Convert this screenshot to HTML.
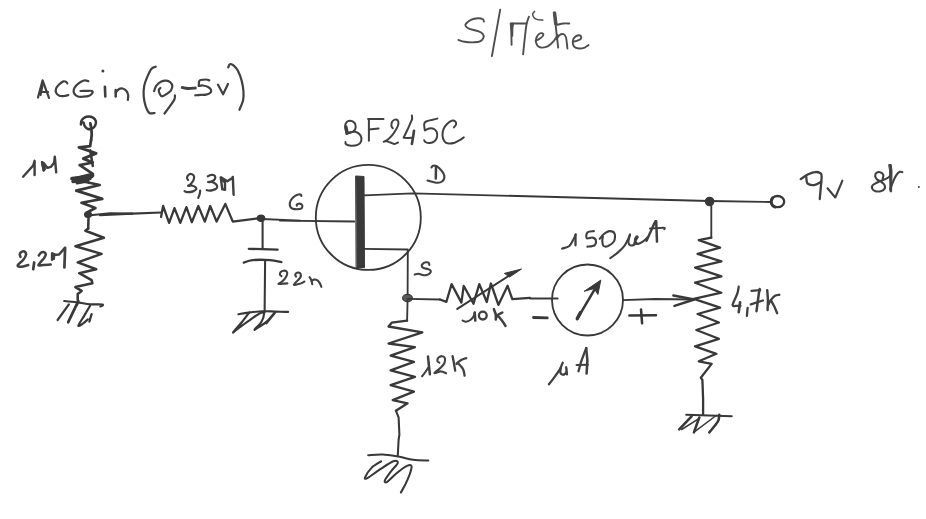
<!DOCTYPE html>
<html><head><meta charset="utf-8"><title>S-Metre schematic</title>
<style>
html,body{margin:0;padding:0;background:#ffffff;}
body{width:926px;height:519px;overflow:hidden;font-family:"Liberation Sans",sans-serif;}
svg{display:block;}
</style></head>
<body>
<svg width="926" height="519" viewBox="0 0 926 519">
<rect width="926" height="519" fill="#ffffff"/>
<g fill="none" stroke-linecap="round" stroke-linejoin="round">
<path d="M483.9 21.6 C483.7 21.2 483.9 19.8 482.9 19.2 C481.9 18.6 480.0 18.1 478.1 18.2 C476.2 18.3 473.4 18.7 471.4 19.6 C469.4 20.5 467.1 22.4 466.1 23.5 C465.1 24.6 465.0 25.0 465.6 25.9 C466.2 26.8 467.4 27.9 469.5 28.8 C471.6 29.7 475.9 30.3 478.1 31.2 C480.3 32.1 482.0 33.0 482.9 34.1 C483.8 35.2 483.9 36.7 483.4 37.9 C482.9 39.1 481.5 40.6 480.0 41.3 C478.5 42.0 476.9 42.2 474.3 42.3 C471.7 42.4 467.2 42.2 464.6 41.8 C462.0 41.4 459.4 40.2 458.4 39.9" stroke="#4d4d4d" stroke-width="1.89"/>
<path d="M500.2 9.7 L491.9 56.1" stroke="#4d4d4d" stroke-width="1.89"/>
<path d="M511.6 44.7 L511.1 23.5 L526.0 23.5" stroke="#4d4d4d" stroke-width="1.89"/>
<path d="M512.8 26.0 L512.6 36.0" stroke="#4d4d4d" stroke-width="1.26"/>
<path d="M528.9 16.7 C528.5 18.0 527.2 20.9 526.5 24.5 C525.8 28.1 525.4 33.0 524.8 38.0 C524.2 43.0 523.4 51.6 523.1 54.3" stroke="#4d4d4d" stroke-width="1.89"/>
<polygon points="510.5,23.2 513.8,23.2 511.6,31.0" fill="#4d4d4d" stroke="#4d4d4d" stroke-width="1"/>
<path d="M534.6 11.4 C534.3 11.8 532.8 12.9 532.7 13.9 C532.6 14.9 533.3 16.8 534.1 17.7 C534.9 18.6 536.0 19.2 537.5 19.6 C539.0 20.0 541.9 20.0 542.8 20.1" stroke="#4d4d4d" stroke-width="1.47"/>
<path d="M535.6 40.8 C536.2 40.5 538.2 39.7 539.4 38.9 C540.6 38.1 542.1 36.8 542.8 36.0 C543.4 35.2 543.6 34.6 543.3 34.1 C543.0 33.6 541.8 33.0 540.9 33.1 C540.0 33.2 538.8 34.0 538.0 35.0 C537.2 36.0 536.4 37.6 536.1 38.9 C535.8 40.2 535.7 41.4 536.1 42.7 C536.5 44.0 537.5 45.8 538.5 46.6 C539.5 47.4 540.7 47.7 542.3 47.6 C543.9 47.5 546.2 47.2 548.1 46.1 C550.0 45.0 552.3 42.6 553.9 40.8 C555.5 38.9 557.1 36.0 557.7 35.0" stroke="#4d4d4d" stroke-width="1.89"/>
<path d="M554.4 12.4 L555.3 21.6 L556.8 36.0 L558.2 47.6" stroke="#4d4d4d" stroke-width="1.89"/>
<polygon points="553.6,12.2 555.6,12.0 557.2,24.5 555.0,24.5" fill="#4d4d4d" stroke="#4d4d4d" stroke-width="1"/>
<path d="M556.8 24.9 C557.9 24.7 561.4 23.7 563.5 23.5 C565.6 23.3 568.3 23.5 569.3 23.5" stroke="#4d4d4d" stroke-width="1.89"/>
<path d="M556.8 38.9 C557.3 38.2 558.6 35.8 559.7 35.0 C560.8 34.2 562.5 33.8 563.5 34.1 C564.5 34.4 565.3 35.4 565.9 37.0 C566.5 38.6 566.6 41.8 566.9 43.7 C567.1 45.6 567.3 47.7 567.4 48.5" stroke="#4d4d4d" stroke-width="1.89"/>
<path d="M572.7 41.8 C573.4 41.6 575.6 41.3 577.0 40.8 C578.4 40.3 580.2 39.7 580.8 38.9 C581.4 38.1 581.3 36.6 580.8 36.0 C580.2 35.4 578.6 35.2 577.5 35.5 C576.4 35.8 574.9 36.9 574.1 37.9 C573.3 38.9 572.7 40.3 572.7 41.8 C572.7 43.2 573.1 45.5 574.1 46.6 C575.1 47.7 577.1 48.3 578.9 48.5 C580.7 48.7 583.1 48.2 584.7 47.6 C586.3 47.0 587.9 45.5 588.5 45.1" stroke="#4d4d4d" stroke-width="1.89"/>
<path d="M38.0 97.5 L42.6 80.3 L49.0 97.9" stroke="#404040" stroke-width="2.21"/>
<path d="M40.5 95.0 L42.8 84.0" stroke="#404040" stroke-width="2.21"/>
<path d="M41.2 92.0 L48.1 92.0" stroke="#404040" stroke-width="2.21"/>
<path d="M67.3 83.3 C67.1 83.0 66.7 82.0 66.0 81.7 C65.3 81.4 64.5 81.0 63.4 81.4 C62.3 81.8 60.5 83.1 59.3 84.3 C58.1 85.5 56.6 87.0 56.1 88.4 C55.6 89.8 55.6 91.4 56.1 92.6 C56.6 93.8 58.0 95.1 59.3 95.7 C60.6 96.3 62.4 96.1 63.9 96.0 C65.4 95.9 67.6 95.3 68.3 95.2" stroke="#404040" stroke-width="2.21"/>
<path d="M88.3 81.2 C87.8 81.1 86.4 80.3 85.2 80.4 C84.0 80.5 82.5 80.9 81.0 81.7 C79.5 82.5 77.6 84.0 76.4 85.3 C75.2 86.6 74.2 88.1 73.8 89.5 C73.4 90.9 73.6 92.4 74.3 93.6 C75.0 94.8 76.4 96.0 77.9 96.5 C79.4 97.0 81.2 96.8 83.1 96.7 C85.0 96.6 87.8 96.3 89.3 95.7 C90.8 95.1 92.0 93.9 92.4 93.1 C92.8 92.3 92.6 91.4 91.9 91.0 C91.2 90.6 90.2 90.8 88.3 90.8 C86.4 90.8 81.8 91.0 80.5 91.0" stroke="#404040" stroke-width="2.21"/>
<circle cx="102.9" cy="70.9" r="1.5" fill="#404040" stroke="none"/>
<path d="M104.9 86.8 L105.3 96.5" stroke="#404040" stroke-width="2.62"/>
<path d="M115.7 90.0 L115.7 96.5" stroke="#404040" stroke-width="2.52"/>
<path d="M115.7 92.4 C116.2 91.9 117.7 89.9 118.8 89.2 C119.9 88.5 121.3 88.2 122.6 88.5 C123.9 88.8 125.5 89.9 126.4 91.0 C127.3 92.1 128.0 93.6 128.2 95.1 C128.4 96.6 127.9 99.2 127.8 100.0" stroke="#404040" stroke-width="2.21"/>
<path d="M155.7 66.7 C155.0 67.0 152.9 67.2 151.5 68.8 C150.1 70.4 148.6 73.8 147.4 76.6 C146.2 79.4 144.8 82.6 144.2 85.9 C143.6 89.2 143.4 92.8 143.7 96.3 C144.0 99.8 144.9 103.9 145.8 106.7 C146.8 109.5 147.9 112.0 149.4 113.0 C150.9 114.0 153.7 113.0 154.6 113.0" stroke="#404040" stroke-width="2.21"/>
<path d="M154.1 91.1 C154.4 90.2 155.1 87.5 156.2 85.9 C157.3 84.4 159.2 82.7 160.9 81.8 C162.6 80.9 164.5 80.6 166.1 80.7 C167.7 80.8 169.3 81.4 170.3 82.3 C171.3 83.2 172.2 84.5 172.3 85.9 C172.4 87.3 171.8 89.2 170.8 90.6 C169.8 92.0 167.6 93.3 166.1 94.3 C164.6 95.2 162.9 96.3 161.9 96.3 C160.9 96.3 160.4 95.3 159.9 94.3 C159.4 93.3 158.7 91.1 158.8 90.1 C158.9 89.0 160.1 88.3 160.4 88.0" stroke="#404040" stroke-width="2.21"/>
<path d="M174.9 95.3 C174.8 96.0 175.2 97.8 174.4 99.5 C173.6 101.2 172.0 103.4 170.3 105.7 C168.7 108.0 165.5 112.2 164.5 113.5" stroke="#404040" stroke-width="2.21"/>
<path d="M182.3 87.5 C183.2 87.7 185.8 88.4 188.0 88.5 C190.2 88.6 194.1 88.1 195.3 88.0" stroke="#404040" stroke-width="2.94"/>
<path d="M209.3 80.3 C208.8 80.2 207.6 79.5 206.1 79.5 C204.6 79.5 201.8 79.7 200.6 80.0 C199.4 80.3 199.4 80.5 199.1 81.5 C198.8 82.5 198.9 85.2 198.8 86.0" stroke="#404040" stroke-width="2.21"/>
<path d="M198.8 86.0 C199.5 85.9 201.6 85.3 203.1 85.5 C204.6 85.7 206.8 86.2 208.1 87.0 C209.4 87.8 210.8 89.0 211.1 90.0 C211.4 91.0 210.9 92.2 210.1 93.0 C209.3 93.8 207.7 94.3 206.1 94.6 C204.5 94.9 202.4 94.7 200.6 94.8 C198.8 94.9 196.2 95.2 195.3 95.3" stroke="#404040" stroke-width="2.21"/>
<path d="M217.9 84.6 L223.1 94.3 L228.0 84.0" stroke="#404040" stroke-width="2.21"/>
<path d="M228.2 67.4 C228.5 66.9 228.9 64.6 229.8 64.2 C230.7 63.9 232.2 64.2 233.5 65.3 C234.8 66.4 236.5 68.1 237.8 70.6 C239.1 73.1 240.6 76.8 241.5 80.1 C242.4 83.4 243.1 87.3 243.4 90.7 C243.7 94.1 243.8 97.1 243.1 100.3 C242.4 103.5 240.0 108.2 239.4 109.8" stroke="#404040" stroke-width="2.21"/>
<path d="M80.9 124.5 C81.0 123.8 81.0 121.7 81.6 120.5 C82.2 119.3 83.3 118.2 84.5 117.6 C85.7 116.9 87.1 116.6 88.5 116.6 C89.9 116.6 91.8 116.9 93.0 117.6 C94.2 118.3 95.4 119.7 95.8 121.0 C96.2 122.3 95.8 124.2 95.2 125.5 C94.6 126.8 93.2 128.0 92.0 128.6 C90.8 129.2 89.2 129.3 88.0 129.0 C86.8 128.7 85.8 127.6 85.0 126.5 C84.2 125.4 83.8 123.2 83.5 122.5" stroke="#383838" stroke-width="2.53"/>
<path d="M90.3 123.4 C90.5 124.2 91.0 126.2 91.2 128.0 C91.4 129.8 91.7 132.0 91.7 134.0 C91.7 136.0 91.3 139.0 91.2 140.0" stroke="#383838" stroke-width="2.76"/>
<path d="M91.0 140.0 L90.2 146.1 L78.9 147.4 L96.2 153.4 L83.2 158.6 L92.8 162.5 L79.7 165.2 L92.8 173.8 L71.9 179.0 L99.7 185.0 L76.3 190.6 L102.3 198.9 L91.0 201.0 L81.5 202.8 L95.4 208.0 L88.0 212.0" stroke="#383838" stroke-width="2.76"/>
<path d="M90.2 150.4 L92.8 166.0" stroke="#383838" stroke-width="2.53"/>
<path d="M72.0 178.5 L92.0 176.5" stroke="#383838" stroke-width="3.45"/>
<path d="M73.0 181.5 L90.0 178.5" stroke="#383838" stroke-width="3.45"/>
<path d="M77.0 183.0 L88.0 181.0" stroke="#383838" stroke-width="2.88"/>
<path d="M83.0 177.0 L93.0 175.5" stroke="#383838" stroke-width="2.88"/>
<path d="M23.1 176.7 L33.2 165.5 L34.6 160.8 L34.6 175.0" stroke="#404040" stroke-width="2.42"/>
<path d="M43.7 170.6 L42.0 162.1 L44.0 163.5 L47.4 167.9 L50.8 166.9 L54.1 162.8 L54.8 156.7 L56.2 172.3" stroke="#404040" stroke-width="2.42"/>
<polygon points="41.8,162.0 44.5,163.0 45.5,170.0 43.5,170.8" fill="#404040" stroke="#404040" stroke-width="1"/>
<ellipse cx="88.0" cy="214.5" rx="3.4" ry="3.0" fill="#383838" stroke="#383838" stroke-width="1.2"/>
<path d="M88.0 215.5 L110.0 213.2 L132.4 213.6" stroke="#383838" stroke-width="2.07"/>
<path d="M88.5 218.0 L88.2 228.5" stroke="#383838" stroke-width="2.53"/>
<path d="M88.2 228.5 L85.4 230.8 L103.9 237.7 L75.4 246.2 L101.6 253.9 L77.7 262.4 L96.2 269.3 L79.2 273.2 L91.6 280.1 L92.4 283.2 L75.4 287.1 L81.6 290.9 L77.7 294.0 L77.7 300.0 L78.4 301.0 L77.0 304.6" stroke="#383838" stroke-width="2.53"/>
<path d="M64.2 301.0 C66.3 301.2 72.7 301.8 77.0 302.4 C81.3 302.9 85.8 303.9 90.1 304.3 C94.4 304.7 100.9 304.2 102.6 304.6 C104.3 305.0 100.8 306.2 100.4 306.5" stroke="#383838" stroke-width="2.18"/>
<path d="M68.9 304.3 L57.6 320.0" stroke="#383838" stroke-width="2.18"/>
<path d="M77.0 303.9 L68.2 322.2" stroke="#383838" stroke-width="2.76"/>
<path d="M90.1 305.7 C89.1 307.4 86.2 312.3 84.3 315.6 C82.3 318.9 78.7 324.1 78.4 325.5 C78.2 326.9 81.2 324.7 82.8 323.7 C84.4 322.7 87.1 320.0 87.9 319.3" stroke="#383838" stroke-width="2.18"/>
<path d="M91.6 314.2 L89.4 321.5" stroke="#383838" stroke-width="2.30"/>
<path d="M20.5 256.9 C20.4 256.4 19.6 255.0 19.8 254.1 C20.0 253.2 21.0 252.0 21.9 251.7 C22.8 251.3 24.5 251.4 25.1 252.0 C25.8 252.6 26.2 254.2 25.8 255.5 C25.4 256.9 24.4 258.5 23.0 260.1 C21.6 261.8 18.0 264.3 17.7 265.4 C17.4 266.5 19.4 266.9 21.2 266.8 C22.9 266.7 27.0 265.3 28.2 265.0" stroke="#404040" stroke-width="2.52"/>
<path d="M34.2 262.5 L33.2 269.2" stroke="#404040" stroke-width="2.73"/>
<path d="M38.8 255.5 C39.1 255.0 40.1 253.3 40.9 252.7 C41.7 252.1 42.9 251.8 43.7 252.0 C44.5 252.2 45.7 253.2 45.8 254.1 C45.9 255.0 45.2 256.3 44.4 257.6 C43.6 258.9 41.9 260.5 40.9 261.8 C39.9 263.1 37.9 264.9 38.4 265.4 C38.9 265.9 41.7 265.1 43.7 265.0 C45.8 264.9 49.5 264.7 50.7 264.6" stroke="#404040" stroke-width="2.52"/>
<path d="M52.1 259.7 L52.1 253.4 L55.6 254.8 L59.1 254.5 L64.7 248.2" stroke="#404040" stroke-width="2.52"/>
<polygon points="52.0,253.0 55.0,254.0 54.5,259.5 52.5,259.5" fill="#404040" stroke="#404040" stroke-width="1"/>
<path d="M65.1 247.8 L64.4 267.5" stroke="#404040" stroke-width="2.73"/>
<path d="M100.0 215.1 L132.4 213.6 L161.1 212.5" stroke="#383838" stroke-width="2.07"/>
<path d="M161.1 216.8 L163.1 206.0 L169.1 222.9 L174.5 208.2 L180.3 222.9 L186.4 207.1 L191.8 222.2 L198.3 206.0 L204.8 221.6 L210.2 206.0 L216.6 221.6 L225.3 203.9 L232.8 221.6 L262.0 217.9" stroke="#383838" stroke-width="2.30"/>
<ellipse cx="261.0" cy="218.3" rx="3.8" ry="3.2" fill="#383838" stroke="#383838" stroke-width="1.2"/>
<path d="M262.0 219.0 L300.0 220.7" stroke="#383838" stroke-width="1.84"/>
<path d="M188.1 180.1 C187.9 179.7 186.8 178.3 187.0 177.4 C187.2 176.5 188.4 174.9 189.2 174.4 C190.0 173.9 191.1 173.9 191.9 174.2 C192.7 174.5 193.7 175.3 194.0 176.3 C194.3 177.3 194.0 178.8 193.5 180.1 C193.0 181.4 191.7 182.9 190.8 183.9 C189.9 184.9 187.9 185.7 188.1 186.0 C188.3 186.3 190.7 185.3 191.9 185.5 C193.1 185.7 194.7 186.5 195.4 187.1 C196.1 187.7 196.6 188.6 196.2 189.3 C195.8 190.0 194.3 190.9 193.0 191.4 C191.7 191.9 189.5 192.2 188.1 192.2 C186.7 192.2 185.2 191.4 184.6 191.2" stroke="#404040" stroke-width="2.21"/>
<path d="M200.2 190.6 C200.1 191.2 200.0 192.9 199.7 194.1 C199.4 195.3 198.5 197.3 198.3 197.9" stroke="#404040" stroke-width="2.21"/>
<path d="M207.8 176.3 C208.3 176.1 209.8 175.2 210.8 175.0 C211.8 174.8 213.2 174.8 214.0 175.2 C214.8 175.6 215.3 176.6 215.3 177.4 C215.3 178.2 214.8 179.3 214.0 180.1 C213.2 180.9 211.1 181.7 210.2 182.0 C209.2 182.3 208.6 182.0 208.3 182.0" stroke="#404040" stroke-width="2.21"/>
<path d="M208.3 182.0 C208.9 182.0 210.6 181.7 211.8 182.0 C213.0 182.3 214.7 183.1 215.6 183.9 C216.5 184.7 217.1 185.8 217.2 186.6 C217.3 187.4 216.9 188.1 216.2 188.7 C215.5 189.3 214.1 189.8 212.9 190.1 C211.7 190.4 210.1 190.6 209.1 190.6 C208.1 190.6 207.1 190.2 206.7 190.1" stroke="#404040" stroke-width="2.21"/>
<path d="M220.7 177.4 L222.3 189.3 L225.0 189.8 L225.0 182.8 L220.9 177.4 L227.4 181.2 L232.3 177.9 L232.8 176.9 L233.6 194.7" stroke="#404040" stroke-width="2.42"/>
<path d="M262.6 220.0 L262.6 248.8" stroke="#383838" stroke-width="2.07"/>
<path d="M248.8 248.8 L277.6 249.6" stroke="#383838" stroke-width="2.30"/>
<path d="M243.8 262.6 C245.3 262.2 248.2 260.5 252.6 260.1 C256.9 259.7 265.3 259.8 270.1 260.1 C274.9 260.4 279.5 261.8 281.4 262.1" stroke="#383838" stroke-width="2.30"/>
<path d="M265.1 261.3 L264.6 312.7" stroke="#383838" stroke-width="2.07"/>
<path d="M238.4 314.3 C240.1 314.0 244.7 313.1 248.7 312.6 C252.7 312.1 258.0 311.4 262.6 311.2 C267.2 311.0 272.1 311.5 276.4 311.6 C280.6 311.7 286.2 311.8 288.1 311.9" stroke="#383838" stroke-width="2.07"/>
<path d="M249.4 312.3 C248.1 314.0 244.5 319.0 241.8 322.3 C239.1 325.6 233.9 331.2 233.2 332.3 C232.5 333.4 235.1 330.7 237.7 328.8 C240.3 326.9 244.9 323.5 248.7 320.9 C252.5 318.2 258.0 314.0 260.5 312.9 C263.0 311.8 263.8 312.4 263.9 314.0 C264.0 315.6 262.8 319.7 261.2 322.3 C259.6 324.9 255.2 328.6 254.6 329.5 C254.0 330.4 255.7 329.1 257.7 327.8 C259.7 326.5 263.8 324.2 266.7 321.6 C269.6 319.0 274.0 313.3 275.0 312.3 C276.0 311.3 274.3 313.6 272.9 315.4 C271.5 317.2 267.5 322.0 266.4 323.3" stroke="#383838" stroke-width="2.18"/>
<path d="M281.5 276.1 C281.2 275.9 280.0 275.4 279.9 274.7 C279.8 274.0 280.1 272.7 280.7 272.0 C281.3 271.3 282.6 270.8 283.6 270.7 C284.6 270.6 286.0 270.9 286.6 271.5 C287.2 272.1 287.4 273.3 287.1 274.5 C286.8 275.7 285.6 277.6 284.7 278.8 C283.8 280.1 282.5 281.1 281.5 282.0 C280.5 282.9 278.3 283.6 278.5 283.9 C278.7 284.2 281.1 283.8 282.6 283.7 C284.1 283.6 286.6 283.4 287.4 283.4" stroke="#404040" stroke-width="2.10"/>
<path d="M296.1 276.6 C296.0 276.3 295.2 275.6 295.2 275.0 C295.2 274.4 295.7 273.5 296.3 273.1 C296.9 272.7 298.1 272.5 298.8 272.6 C299.5 272.7 300.3 273.1 300.6 273.9 C300.9 274.7 300.9 276.1 300.4 277.2 C299.9 278.3 298.8 279.1 297.7 280.4 C296.6 281.6 293.9 284.1 293.9 284.7 C293.9 285.3 296.4 284.5 297.7 284.2 C299.0 283.9 300.6 283.6 301.7 283.1 C302.8 282.7 303.9 281.8 304.4 281.5" stroke="#404040" stroke-width="2.10"/>
<path d="M309.6 277.2 C309.9 277.6 310.8 278.7 311.2 279.9 C311.6 281.1 312.1 283.5 312.3 284.2" stroke="#404040" stroke-width="2.10"/>
<path d="M311.7 281.0 C312.1 280.8 313.0 279.8 313.9 279.6 C314.8 279.5 316.1 279.5 317.1 280.1 C318.1 280.7 319.1 282.0 319.8 283.1 C320.5 284.2 321.1 286.3 321.4 286.9" stroke="#404040" stroke-width="2.10"/>
<ellipse cx="368.3" cy="217.4" rx="52.5" ry="52.5" stroke="#383838" stroke-width="1.84"/>
<path d="M280.0 220.7 L354.2 221.5" stroke="#383838" stroke-width="1.84"/>
<path d="M364.3 195.3 L412.8 193.3 L709.0 201.0" stroke="#383838" stroke-width="1.84"/>
<path d="M363.3 248.9 L407.8 249.5 L407.6 298.8" stroke="#383838" stroke-width="1.84"/>
<polygon points="356.0,176.0 364.0,176.5 364.5,267.5 356.5,267.5" fill="#3a3a3a" stroke="#3a3a3a" stroke-width="1"/>
<path d="M301.3 196.0 C301.3 195.8 301.6 195.1 301.1 194.8 C300.7 194.6 299.6 194.3 298.6 194.5 C297.6 194.7 296.3 195.1 295.2 195.8 C294.1 196.5 292.7 197.7 291.8 198.8 C290.9 199.9 290.1 201.3 289.9 202.6 C289.6 203.9 289.9 205.8 290.3 206.8 C290.8 207.8 291.5 208.3 292.6 208.7 C293.7 209.1 295.5 209.2 296.9 209.2 C298.3 209.2 300.2 209.2 301.1 208.7 C302.0 208.2 302.3 207.1 302.4 206.4 C302.5 205.7 302.1 204.8 301.5 204.3 C300.9 203.9 299.4 203.6 298.6 203.7 C297.8 203.8 297.0 204.3 296.7 204.7 C296.4 205.0 296.9 205.6 296.9 205.8" stroke="#404040" stroke-width="2.10"/>
<path d="M431.5 167.3 C431.8 167.1 432.2 166.0 433.0 165.8 C433.8 165.6 435.3 165.5 436.5 166.0 C437.7 166.5 438.8 167.8 440.0 169.0 C441.2 170.2 442.8 172.0 443.5 173.5 C444.2 175.0 444.6 176.7 444.3 178.0 C444.1 179.3 443.1 180.7 442.0 181.5 C440.9 182.3 439.5 182.7 438.0 182.8 C436.5 182.9 434.8 182.4 433.0 182.0 C431.2 181.6 428.4 180.8 427.5 180.5" stroke="#404040" stroke-width="2.10"/>
<path d="M436.0 166.5 L435.8 178.5" stroke="#404040" stroke-width="2.52"/>
<path d="M429.3 264.9 C429.2 264.5 429.2 263.2 428.7 262.8 C428.2 262.4 427.1 262.2 426.1 262.3 C425.2 262.4 423.7 263.0 423.0 263.6 C422.3 264.2 421.6 265.2 421.7 265.9 C421.8 266.6 422.5 267.5 423.5 268.0 C424.5 268.5 426.5 268.6 427.7 269.0 C428.9 269.4 430.2 269.9 430.6 270.6 C431.0 271.3 430.7 272.5 430.0 273.2 C429.3 273.9 427.9 274.7 426.6 275.0 C425.4 275.3 423.9 275.2 422.5 275.0 C421.1 274.8 419.6 273.8 418.3 273.7 C417.0 273.6 415.3 274.4 414.7 274.5" stroke="#404040" stroke-width="2.10"/>
<path d="M346.6 134.0 C346.4 132.8 345.1 128.6 345.1 126.6 C345.1 124.6 345.8 123.2 346.6 122.2 C347.5 121.2 348.9 120.7 350.2 120.8 C351.5 120.9 353.7 121.9 354.6 123.0 C355.5 124.1 355.8 126.1 355.7 127.4 C355.6 128.7 355.0 130.0 353.9 131.0 C352.8 132.0 350.0 132.7 348.8 133.2 C347.6 133.7 347.0 133.9 346.6 134.0" stroke="#404040" stroke-width="1.99"/>
<path d="M348.8 132.5 C349.9 132.4 353.4 131.3 355.4 131.8 C357.3 132.3 359.5 133.8 360.5 135.4 C361.5 137.0 361.7 139.7 361.2 141.3 C360.7 142.9 359.3 144.2 357.6 144.9 C355.9 145.6 352.9 145.8 351.0 145.7 C349.1 145.6 346.8 144.8 345.9 144.2 C345.0 143.6 345.6 142.4 345.5 142.0" stroke="#404040" stroke-width="1.99"/>
<path d="M346.0 127.0 L347.2 133.0" stroke="#404040" stroke-width="3.25"/>
<path d="M368.9 119.4 L368.9 140.8" stroke="#404040" stroke-width="1.99"/>
<path d="M368.1 118.9 L383.5 118.9" stroke="#404040" stroke-width="1.99"/>
<path d="M368.9 129.4 L378.6 128.6" stroke="#404040" stroke-width="1.99"/>
<path d="M392.8 128.3 C392.6 127.9 391.5 127.0 391.4 125.9 C391.3 124.8 391.5 122.8 392.1 121.7 C392.7 120.7 394.0 119.8 394.9 119.6 C395.8 119.4 397.1 119.6 397.7 120.3 C398.3 121.0 398.6 122.4 398.4 123.8 C398.2 125.2 397.6 126.8 396.6 128.6 C395.6 130.4 394.0 133.1 392.5 134.9 C391.0 136.8 389.1 138.5 387.6 139.7 C386.2 140.8 384.2 141.6 383.8 141.8 C383.4 142.0 384.4 141.0 385.5 141.1 C386.6 141.2 388.9 142.0 390.4 142.5 C391.9 143.0 393.3 143.9 394.6 143.9 C395.9 143.9 397.4 142.7 398.0 142.5" stroke="#404040" stroke-width="1.99"/>
<path d="M411.9 115.5 L412.2 118.9 L407.7 129.3 L403.6 137.7 L407.7 138.0 L412.6 137.7" stroke="#404040" stroke-width="1.99"/>
<path d="M414.0 130.7 L413.3 135.6 L411.9 143.9" stroke="#404040" stroke-width="2.62"/>
<path d="M437.4 118.6 C436.6 118.8 434.5 119.2 432.6 119.7 C430.7 120.2 427.5 120.8 426.1 121.5 C424.7 122.2 424.4 122.5 424.2 123.7 C423.9 124.9 424.5 127.7 424.6 128.8 C424.7 129.9 424.9 130.1 425.0 130.3" stroke="#404040" stroke-width="1.99"/>
<path d="M425.0 130.3 C425.7 130.0 427.6 128.8 429.0 128.5 C430.4 128.2 432.4 128.2 433.7 128.8 C435.0 129.4 436.1 130.5 436.7 131.8 C437.2 133.2 437.4 135.3 437.0 136.9 C436.6 138.5 435.7 140.3 434.5 141.3 C433.3 142.3 431.2 143.0 429.7 143.1 C428.2 143.2 426.2 142.5 425.3 142.0 C424.4 141.5 424.4 140.5 424.2 140.2" stroke="#404040" stroke-width="1.99"/>
<path d="M453.9 127.4 C454.3 126.9 455.9 125.4 456.1 124.4 C456.3 123.4 456.0 122.1 455.3 121.5 C454.6 120.9 453.0 120.4 451.7 120.8 C450.4 121.2 448.6 122.4 447.3 123.7 C446.0 125.0 444.4 126.9 443.6 128.8 C442.8 130.8 442.4 133.3 442.5 135.4 C442.6 137.5 443.4 140.0 444.4 141.3 C445.4 142.7 447.0 143.3 448.7 143.5 C450.4 143.7 452.8 143.2 454.6 142.7 C456.4 142.1 458.2 141.1 459.7 140.2 C461.2 139.3 463.1 137.8 463.8 137.3" stroke="#404040" stroke-width="1.99"/>
<ellipse cx="709.6" cy="201.5" rx="4.2" ry="4.2" fill="#383838" stroke="#383838" stroke-width="1.2"/>
<path d="M709.6 201.0 L770.8 202.0" stroke="#383838" stroke-width="1.84"/>
<ellipse cx="777.6" cy="201.6" rx="6.6" ry="5.6" stroke="#383838" stroke-width="2.30"/>
<path d="M772.5 198.0 C772.3 198.6 771.2 200.3 771.2 201.6 C771.2 202.8 771.9 204.6 772.5 205.5 C773.1 206.4 774.6 206.8 775.0 207.0" stroke="#383838" stroke-width="2.99"/>
<path d="M800.7 179.1 C801.8 178.4 805.4 175.8 807.7 174.6 C810.1 173.4 812.7 172.3 814.8 172.1 C816.9 171.8 819.3 172.5 820.5 173.2 C821.6 173.9 821.5 174.1 821.6 176.3 C821.7 178.5 821.2 182.4 820.9 186.2 C820.6 190.0 819.9 196.8 819.8 199.0" stroke="#404040" stroke-width="2.31"/>
<path d="M806.3 177.0 C806.5 178.1 806.2 182.0 807.4 183.4 C808.7 184.7 811.8 185.4 814.1 185.1 C816.4 184.8 820.0 182.3 821.2 181.7" stroke="#404040" stroke-width="2.31"/>
<path d="M827.5 188.3 L835.3 197.5 L842.4 180.6" stroke="#404040" stroke-width="2.10"/>
<path d="M882.7 178.7 C882.8 178.0 883.7 175.9 883.3 174.8 C882.9 173.7 881.2 172.5 880.1 172.2 C879.0 171.9 877.3 172.2 876.5 172.8 C875.7 173.5 875.1 175.0 875.2 176.1 C875.3 177.2 876.1 178.4 877.1 179.4 C878.1 180.4 880.1 181.0 881.4 182.0 C882.7 183.0 884.2 184.1 884.7 185.3 C885.2 186.5 885.0 188.2 884.3 189.2 C883.6 190.2 882.2 190.9 880.7 191.2 C879.2 191.5 876.9 191.6 875.5 191.2 C874.1 190.8 872.7 189.6 872.2 188.6 C871.7 187.6 871.7 186.3 872.5 185.3 C873.3 184.3 875.1 183.6 876.8 182.7 C878.5 181.8 881.0 180.8 882.7 180.0 C884.5 179.2 886.1 178.8 887.3 178.1 C888.5 177.4 889.5 176.4 889.9 176.1" stroke="#404040" stroke-width="2.10"/>
<polygon points="889.0,164.6 891.2,164.4 892.0,171.0 891.6,191.8 890.0,191.8 889.6,171.0" fill="#404040" stroke="#404040" stroke-width="1"/>
<path d="M890.2 189.2 C890.7 187.9 892.2 183.7 893.2 181.3 C894.2 178.9 895.4 176.4 896.5 174.8 C897.6 173.2 898.7 172.2 899.7 171.8 C900.7 171.4 902.0 172.1 902.4 172.2" stroke="#404040" stroke-width="2.10"/>
<circle cx="918.8" cy="186.9" r="1.0" fill="#404040" stroke="none"/>
<ellipse cx="407.5" cy="298.0" rx="4.9" ry="3.6" fill="#5a5a5a" stroke="#383838" stroke-width="1.2"/>
<path d="M407.6 298.8 L440.0 299.5" stroke="#383838" stroke-width="1.84"/>
<path d="M440.0 299.5 L446.4 301.8 L451.6 284.1 L461.4 302.6 L463.7 285.8 L473.5 303.7 L479.3 284.1 L486.8 302.0 L490.9 283.5 L498.4 304.9 L507.6 285.8 L512.3 299.1 L529.9 297.9" stroke="#383838" stroke-width="2.30"/>
<path d="M457.3 308.9 L510.5 274.8" stroke="#383838" stroke-width="2.07"/>
<polygon points="504.7,273.3 521.5,269.0 509.9,276.8" fill="#383838" stroke="#383838" stroke-width="1"/>
<path d="M462.6 320.6 C463.2 320.8 464.8 321.8 466.1 321.7 C467.4 321.6 469.1 320.9 470.4 320.0 C471.7 319.1 473.0 317.6 473.7 316.3 C474.4 315.1 474.5 313.1 474.7 312.5" stroke="#404040" stroke-width="2.10"/>
<path d="M474.7 312.5 L475.3 320.6" stroke="#404040" stroke-width="2.52"/>
<ellipse cx="482.8" cy="315.6" rx="3.9" ry="3.9" stroke="#404040" stroke-width="2.31"/>
<path d="M493.9 309.2 C494.2 310.1 495.5 312.9 495.8 314.6 C496.1 316.3 495.8 318.7 495.8 319.5" stroke="#404040" stroke-width="2.62"/>
<path d="M502.3 312.5 C501.7 312.9 499.5 313.8 498.5 314.6 C497.5 315.4 496.7 316.9 496.3 317.3" stroke="#404040" stroke-width="2.52"/>
<path d="M498.0 315.7 C498.7 316.6 501.1 319.4 502.3 321.1 C503.6 322.8 505.0 325.2 505.5 326.0" stroke="#404040" stroke-width="2.52"/>
<ellipse cx="587.5" cy="300.0" rx="35.5" ry="35.5" stroke="#383838" stroke-width="1.84"/>
<path d="M530.0 298.5 L557.7 298.5" stroke="#383838" stroke-width="1.84"/>
<path d="M622.9 300.1 L654.9 299.0 L691.8 299.5" stroke="#383838" stroke-width="1.84"/>
<path d="M673.4 295.5 L694.2 299.5 L674.5 305.9" stroke="#383838" stroke-width="2.53"/>
<path d="M577.1 319.2 L597.0 285.3" stroke="#383838" stroke-width="2.53"/>
<path d="M577.3 318.5 L580.5 312.5" stroke="#383838" stroke-width="3.45"/>
<polygon points="584.5,291.1 600.8,280.1 597.9,294.5 594.4,288.8" fill="#383838" stroke="#383838" stroke-width="1"/>
<path d="M533.5 317.5 L547.3 317.9" stroke="#383838" stroke-width="2.76"/>
<path d="M629.4 315.6 L656.0 315.2" stroke="#383838" stroke-width="2.53"/>
<path d="M641.0 309.4 L642.1 323.3" stroke="#383838" stroke-width="2.53"/>
<path d="M562.1 248.6 C563.3 248.1 567.3 247.6 569.3 246.0 C571.2 244.4 572.7 240.8 573.8 238.8 C574.9 236.9 575.4 235.1 575.7 234.3" stroke="#404040" stroke-width="2.10"/>
<path d="M575.5 235.0 L575.5 245.3" stroke="#404040" stroke-width="2.31"/>
<path d="M593.9 231.1 C592.8 231.3 588.6 231.2 587.4 232.4 C586.2 233.6 585.9 237.3 586.7 238.2 C587.6 239.1 591.1 237.2 592.6 237.6 C594.1 237.9 595.5 238.8 595.8 240.1 C596.1 241.4 595.9 244.2 594.5 245.3 C593.1 246.4 588.6 246.4 587.4 246.6" stroke="#404040" stroke-width="2.10"/>
<path d="M599.7 238.8 C600.4 238.1 602.0 235.6 603.6 234.3 C605.2 233.0 607.6 231.2 609.4 231.1 C611.3 231.0 613.9 231.9 614.6 233.7 C615.4 235.4 615.0 239.4 614.0 241.4 C612.9 243.5 609.9 245.2 608.1 246.0 C606.4 246.7 604.6 246.7 603.6 246.0 C602.6 245.2 602.4 243.1 602.3 241.4 C602.2 239.8 602.8 237.1 602.9 236.3" stroke="#404040" stroke-width="2.10"/>
<path d="M610.3 258.1 C611.6 257.2 615.7 254.4 618.0 252.4 C620.3 250.4 622.6 248.3 624.2 246.2 C625.8 244.1 626.7 241.9 627.7 240.0 C628.7 238.1 629.6 235.5 630.0 234.6" stroke="#404040" stroke-width="2.10"/>
<path d="M630.0 234.6 C629.7 235.9 628.3 240.6 628.4 242.4 C628.5 244.2 629.4 245.0 630.4 245.4 C631.4 245.8 633.2 245.2 634.2 244.7 C635.2 244.2 636.1 242.8 636.5 242.4" stroke="#404040" stroke-width="2.10"/>
<path d="M634.2 243.1 C634.5 242.5 635.5 240.7 636.1 239.7 C636.7 238.7 637.6 237.5 637.7 237.0 C637.8 236.5 637.0 236.2 636.5 236.6 C636.0 237.0 635.2 238.2 635.0 239.3 C634.8 240.4 634.9 242.3 635.4 243.1 C635.9 243.9 636.9 244.2 638.1 243.9 C639.3 243.7 641.2 242.6 642.7 241.6 C644.2 240.6 646.5 238.3 647.3 237.7" stroke="#404040" stroke-width="2.10"/>
<path d="M646.5 240.8 C647.1 239.5 649.0 235.4 650.0 233.1 C651.0 230.8 651.8 228.9 652.7 226.9 C653.6 224.9 655.0 222.1 655.4 221.2" stroke="#404040" stroke-width="2.42"/>
<path d="M656.2 221.2 L657.0 241.6" stroke="#404040" stroke-width="2.52"/>
<path d="M650.0 228.5 C652.2 228.4 661.1 227.6 663.5 227.7 C665.9 227.8 664.2 228.9 664.3 229.2" stroke="#404040" stroke-width="2.10"/>
<path d="M548.9 384.3 C550.0 382.9 553.6 378.3 555.4 375.8 C557.2 373.4 558.4 371.8 559.7 369.7 C560.9 367.5 562.2 363.9 562.7 362.7" stroke="#404040" stroke-width="2.31"/>
<path d="M560.8 368.1 C560.7 368.9 560.1 371.7 560.4 372.7 C560.7 373.8 561.9 374.5 562.7 374.7 C563.6 374.8 564.8 374.2 565.4 373.5 C566.1 372.8 566.5 371.5 566.6 370.4 C566.7 369.4 566.1 366.7 566.2 367.4 C566.3 368.0 566.8 373.1 567.0 374.3" stroke="#404040" stroke-width="2.31"/>
<path d="M578.5 371.2 L580.8 362.7 L583.9 354.2 L586.2 348.1" stroke="#404040" stroke-width="2.31"/>
<path d="M586.2 348.1 L587.4 360.4 L586.6 373.5" stroke="#404040" stroke-width="2.52"/>
<path d="M576.6 365.0 L587.8 364.7" stroke="#404040" stroke-width="2.10"/>
<path d="M711.3 203.8 L711.3 237.6" stroke="#383838" stroke-width="1.84"/>
<path d="M711.3 237.6 L698.8 240.1 L720.1 247.6 L697.6 253.9 L721.4 261.4 L695.1 267.6 L721.4 276.4 L695.1 282.7 L721.4 292.7 L693.8 298.9 L720.1 307.7 L697.6 314.0 L718.9 322.5 L696.3 330.0 L718.9 338.8 L695.1 346.3 L716.4 353.8 L698.8 361.3 L711.6 363.9 L700.8 377.7 L702.4 380.0 L703.1 398.5 L703.1 414.7" stroke="#383838" stroke-width="2.30"/>
<path d="M686.2 414.7 L731.7 416.3" stroke="#383838" stroke-width="2.07"/>
<path d="M691.6 416.3 L679.2 429.4" stroke="#383838" stroke-width="2.53"/>
<path d="M699.3 417.5 L693.9 432.4" stroke="#383838" stroke-width="2.53"/>
<path d="M719.3 414.7 C719.0 415.9 719.5 418.8 717.8 421.7 C716.1 424.6 710.7 430.6 709.3 432.4" stroke="#383838" stroke-width="2.53"/>
<path d="M681.6 429.5 L699.3 418.3" stroke="#383838" stroke-width="1.49"/>
<path d="M694.7 431.7 L716.2 415.5" stroke="#383838" stroke-width="1.49"/>
<path d="M738.7 286.6 C738.5 287.8 738.3 290.6 737.3 293.7 C736.3 296.8 732.6 303.1 732.6 305.1 C732.6 307.1 736.0 305.7 737.3 305.8 C738.6 305.9 740.0 305.8 740.5 305.8" stroke="#404040" stroke-width="2.31"/>
<path d="M740.1 302.2 L738.7 312.2" stroke="#404040" stroke-width="2.62"/>
<path d="M747.6 308.0 L746.9 315.8" stroke="#404040" stroke-width="2.31"/>
<path d="M751.5 290.8 L760.1 290.1" stroke="#404040" stroke-width="2.31"/>
<path d="M759.7 289.1 C759.5 290.2 759.0 292.3 758.5 296.0 C758.0 299.7 756.8 308.7 756.5 311.2" stroke="#404040" stroke-width="2.52"/>
<path d="M750.8 304.4 L762.9 300.5" stroke="#404040" stroke-width="2.31"/>
<path d="M767.2 290.1 C767.3 291.7 767.8 296.1 767.9 299.4 C768.0 302.7 767.6 308.3 767.6 310.1" stroke="#404040" stroke-width="2.42"/>
<path d="M779.3 294.8 C778.6 295.0 776.4 294.9 775.0 295.8 C773.6 296.7 771.9 298.7 770.8 300.1 C769.7 301.5 769.0 303.7 768.6 304.4" stroke="#404040" stroke-width="2.31"/>
<path d="M770.8 300.1 C771.4 301.2 773.2 304.3 774.3 306.5 C775.4 308.7 776.7 312.2 777.2 313.3" stroke="#404040" stroke-width="2.31"/>
<path d="M407.6 298.8 L407.1 320.6" stroke="#383838" stroke-width="1.84"/>
<path d="M407.1 320.6 L391.7 322.7 L388.5 326.5 L422.4 332.3 L388.5 343.5 L415.0 347.1 L390.6 355.6 L413.9 361.9 L390.6 370.4 L415.0 376.8 L390.6 385.2 L413.9 391.6 L392.7 400.1 L407.6 403.3 L395.9 410.7" stroke="#383838" stroke-width="2.30"/>
<path d="M395.9 410.7 L398.6 417.3 L399.4 434.7 L398.6 440.0 L397.8 455.2" stroke="#383838" stroke-width="2.07"/>
<path d="M368.2 455.2 C370.6 455.1 377.4 454.2 382.6 454.5 C387.8 454.7 394.3 455.9 399.4 456.7 C404.4 457.6 408.2 459.2 413.1 459.8 C417.9 460.4 425.7 460.4 428.3 460.5" stroke="#383838" stroke-width="2.07"/>
<path d="M381.1 461.3 C379.6 462.3 374.6 464.7 372.0 467.4 C369.3 470.1 365.9 475.5 365.1 477.3 C364.4 479.1 365.0 479.3 367.4 478.1 C369.8 476.8 375.3 472.5 379.6 469.7 C383.9 466.9 390.2 462.5 393.3 461.3 C396.3 460.2 398.1 461.3 397.8 462.8 C397.6 464.4 393.9 467.5 391.8 470.4 C389.6 473.4 385.7 478.4 384.9 480.3 C384.1 482.2 385.3 483.0 387.2 481.9 C389.1 480.7 393.0 476.2 396.3 473.5 C399.6 470.8 404.4 467.1 407.0 465.9 C409.5 464.6 411.0 464.6 411.5 465.9 C412.0 467.1 411.0 470.4 410.0 473.5 C409.0 476.5 407.0 481.0 405.5 484.1 C403.9 487.3 401.6 491.1 400.9 492.5" stroke="#383838" stroke-width="2.07"/>
<path d="M428.0 356.5 L428.6 363.0 L429.9 374.3" stroke="#404040" stroke-width="2.52"/>
<path d="M428.3 367.5 C427.8 368.3 426.4 370.6 425.4 372.0 C424.3 373.5 422.7 375.5 422.1 376.2" stroke="#404040" stroke-width="2.10"/>
<path d="M439.3 362.6 C439.0 362.4 437.8 362.0 437.5 361.3 C437.3 360.6 437.5 359.2 437.8 358.4 C438.2 357.7 438.9 357.2 439.6 356.8 C440.4 356.4 441.3 356.0 442.2 356.2 C443.1 356.3 444.4 356.6 444.8 357.8 C445.2 358.9 445.1 361.3 444.5 363.0 C443.8 364.6 442.6 365.8 440.9 367.5 C439.2 369.2 434.4 372.4 434.4 373.0 C434.4 373.7 439.0 371.3 440.9 371.4 C442.9 371.4 445.2 373.0 446.1 373.3" stroke="#404040" stroke-width="2.10"/>
<path d="M452.6 356.2 L453.9 363.0 L455.2 370.7" stroke="#404040" stroke-width="2.31"/>
<path d="M466.2 358.1 C465.2 358.5 462.0 359.4 460.4 360.4 C458.7 361.3 457.1 363.3 456.5 363.9" stroke="#404040" stroke-width="2.31"/>
<path d="M457.8 363.0 C458.6 363.9 461.8 366.7 462.9 368.8 C464.1 370.9 464.3 374.5 464.6 375.6" stroke="#404040" stroke-width="2.31"/>
</g>
</svg>
</body></html>
